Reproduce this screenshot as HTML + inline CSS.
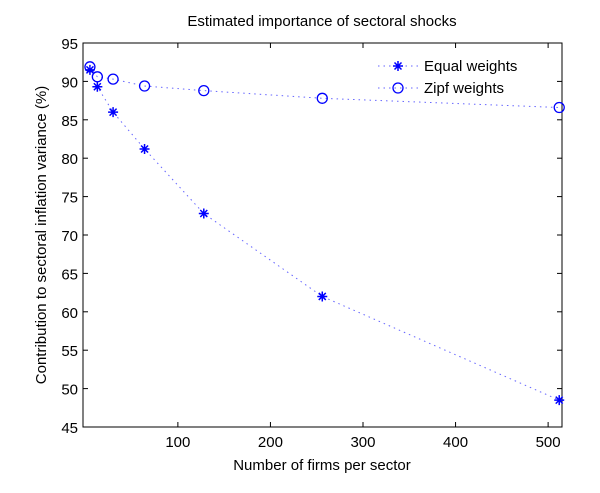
<!DOCTYPE html>
<html><head><meta charset="utf-8"><style>
body{margin:0;background:#fff;font-family:"Liberation Sans",Arial,sans-serif}
</style></head><body>
<svg id="c" width="600" height="488" xmlns="http://www.w3.org/2000/svg" font-family="Liberation Sans, Arial, sans-serif">
<text x="322" y="26" font-size="15" text-anchor="middle">Estimated importance of sectoral shocks</text>
<text x="322" y="470" font-size="15" text-anchor="middle">Number of firms per sector</text>
<text transform="translate(46,235) rotate(-90)" font-size="15" text-anchor="middle">Contribution to sectoral inflation variance (%)</text>
<g id="g"></g>
</svg>
<script>
const xs=[5,13,30,64,128,256,512];
const equalW=[91.5,89.3,86,81.2,72.8,62,48.5];
const zipfW=[91.9,90.6,90.3,89.4,88.8,87.8,86.6];
const xTicks=[100,200,300,400,500];
const yTicks=[45,50,55,60,65,70,75,80,85,90,95];
const L=83,R=562,T=43,B=427,X0=-2.5,X1=515,Y0=45,Y1=95;
const sx=v=>L+(v-X0)/(X1-X0)*(R-L), sy=v=>B-(v-Y0)/(Y1-Y0)*(B-T);
const g=document.getElementById('g'),NS='http://www.w3.org/2000/svg';
function mk(t,a){const e=document.createElementNS(NS,t);for(const k in a)e.setAttribute(k,a[k]);g.appendChild(e);return e;}
let e=mk('rect',{x:L,y:T,width:R-L,height:B-T,fill:'none',stroke:'#000','stroke-width':1});


xTicks.forEach(v=>{const x=sx(v);
mk('line',{x1:x,x2:x,y1:B,y2:B-5,stroke:'#000'});mk('line',{x1:x,x2:x,y1:T,y2:T+5,stroke:'#000'});
const t=mk('text',{x:x,y:B+20,'font-size':15,'text-anchor':'middle'});t.textContent=v;

});
yTicks.forEach(v=>{const y=sy(v);
mk('line',{x1:L,x2:L+5,y1:y,y2:y,stroke:'#000'});mk('line',{x1:R,x2:R-5,y1:y,y2:y,stroke:'#000'});
const t=mk('text',{x:L-5,y:y+6,'font-size':15,'text-anchor':'end'});t.textContent=v;

});
function star(x,y){const p=mk('path',{d:`M${x-5} ${y}H${x+5}M${x} ${y-5}V${y+5}M${x-3.5} ${y-3.5}L${x+3.5} ${y+3.5}M${x-3.5} ${y+3.5}L${x+3.5} ${y-3.5}`,stroke:'#00f','stroke-width':1.5});return p;}
function circ(x,y){return mk('circle',{cx:x,cy:y,r:5,fill:'none',stroke:'#00f','stroke-width':1.3});}
function series(vals,marker,name){
const pts=xs.map((x,i)=>sx(x)+','+sy(vals[i])).join(' ');
const l=mk('polyline',{points:pts,fill:'none',stroke:'#66f','stroke-width':1,'stroke-dasharray':'1.5 4'});


xs.forEach((x,i)=>{const m=marker(sx(x),sy(vals[i]));

});}
series(equalW,star,'equal-weights');
series(zipfW,circ,'zipf-weights');
mk('line',{x1:378,x2:418,y1:66,y2:66,stroke:'#66f','stroke-dasharray':'1.5 4'});star(398,66);
mk('line',{x1:378,x2:418,y1:88,y2:88,stroke:'#66f','stroke-dasharray':'1.5 4'});circ(398,88);
let t1=mk('text',{x:424,y:71,'font-size':15});t1.textContent='Equal weights';


let t2=mk('text',{x:424,y:93,'font-size':15});t2.textContent='Zipf weights';


</script>
</body></html>
